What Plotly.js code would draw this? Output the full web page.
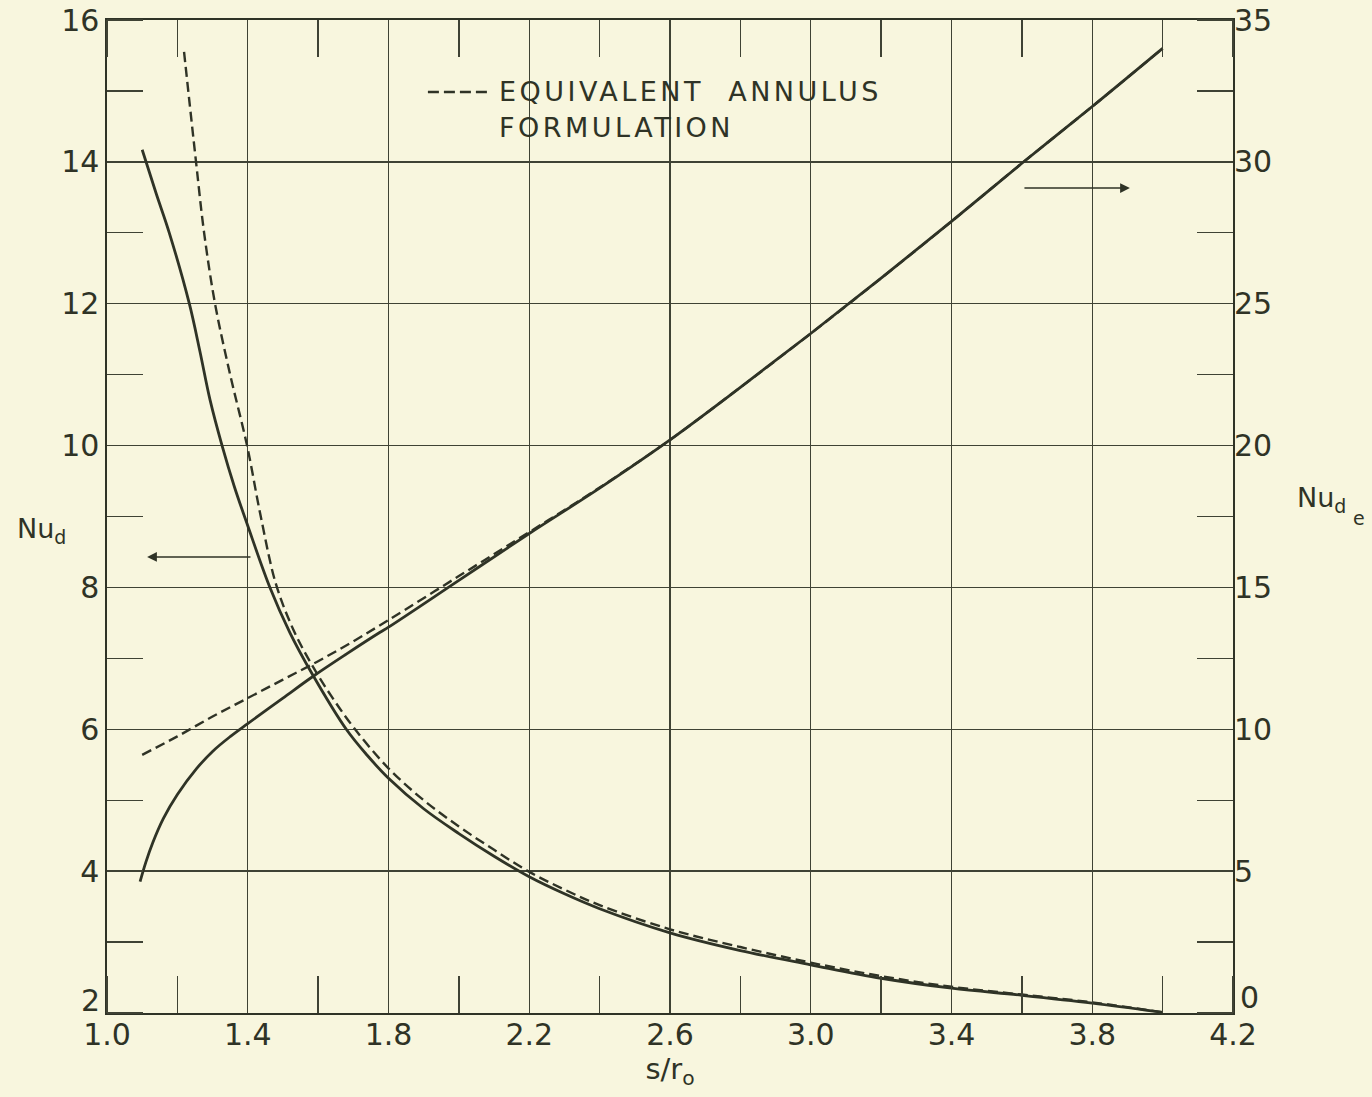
<!DOCTYPE html>
<html>
<head>
<meta charset="utf-8">
<script src="https://cdn.plot.ly/plotly-3.0.1.min.js"></script>
<style>
  html, body { margin: 0; padding: 0; background: #f8f6de; }
  #chart { width: 1372px; height: 1097px; }
</style>
</head>
<body>
<div id="chart"></div>
<script>
// Nu_d (left axis), tube-bank solution
const xNuD = [1.100, 1.140, 1.177, 1.234, 1.264, 1.293, 1.327, 1.362, 1.400, 1.463, 1.520, 1.582, 1.680, 1.740, 1.800, 1.900, 2.0, 2.1, 2.2, 2.3, 2.4, 2.6, 2.8, 3.0, 3.2, 3.4, 3.6, 3.8, 4.0];
const nuD  = [14.17, 13.55, 13.0, 12.0, 11.33, 10.64, 10.0, 9.42, 8.87, 8.0, 7.36, 6.79, 6.0, 5.63, 5.31, 4.88, 4.53, 4.21, 3.92, 3.68, 3.47, 3.13, 2.88, 2.68, 2.49, 2.35, 2.25, 2.14, 2.01];

// Nu_d (left axis), equivalent annulus formulation
const xNuDA = [1.219, 1.253, 1.276, 1.307, 1.350, 1.398, 1.437, 1.480, 1.530, 1.582, 1.640, 1.705, 1.80, 1.90, 2.0, 2.1, 2.2, 2.3, 2.4, 2.6, 2.8, 3.0, 3.2, 3.4, 3.6, 3.8, 4.0];
const nuDA  = [15.55, 14.0, 13.0, 12.0, 11.0, 10.0, 9.0, 8.05, 7.40, 6.91, 6.45, 6.0, 5.45, 5.0, 4.63, 4.30, 3.99, 3.74, 3.52, 3.18, 2.93, 2.71, 2.52, 2.37, 2.26, 2.15, 2.01];

// Nu_de (right axis), tube-bank solution
const xNuDe = [1.094, 1.11, 1.13, 1.16, 1.20, 1.255, 1.30, 1.35, 1.40, 1.50, 1.586, 1.68, 1.776, 1.80, 2.0, 2.2, 2.4, 2.6, 2.8, 3.0, 3.2, 3.4, 3.6, 3.8, 4.0];
const nuDe  = [4.63, 5.3, 6.0, 6.85, 7.7, 8.62, 9.22, 9.74, 10.2, 11.1, 11.87, 12.65, 13.42, 13.6, 15.25, 16.9, 18.5, 20.2, 22.05, 23.95, 25.9, 27.9, 29.95, 31.95, 34.0];

// Nu_de (right axis), equivalent annulus formulation
const xNuDeA = [1.10, 1.2, 1.3, 1.4, 1.5, 1.6, 1.7, 1.8, 2.0, 2.2, 2.4, 2.6, 2.8, 3.0, 3.2, 3.4, 3.6, 3.8, 4.0];
const nuDeA  = [9.1, 9.75, 10.45, 11.1, 11.75, 12.4, 13.1, 13.85, 15.4, 16.95, 18.52, 20.2, 22.05, 23.95, 25.9, 27.9, 29.95, 31.95, 34.0];

const xTickVals = [1.0, 1.4, 1.8, 2.2, 2.6, 3.0, 3.4, 3.8, 4.2];
const yLeftTicks = [4, 6, 8, 10, 12, 14, 16];
const yRightTicks = [5, 10, 15, 20, 25, 30, 35];
const yLeftBottomLabel = '2';
const yRightBottomLabel = '0';

const LINE = '#2f3326';
const GRID = '#3f4234';
const BG = '#f8f6de';
const FONT = 'DejaVu Sans';
const TICKSIZE = 30;

const traces = [
  { x: xNuD, y: nuD, yaxis: 'y', mode: 'lines', line: { color: LINE, width: 2.8, shape: 'spline', smoothing: 1 }, name: 'Nu_d' },
  { x: xNuDA, y: nuDA, yaxis: 'y', mode: 'lines', line: { color: LINE, width: 2.4, dash: '10px,5px', shape: 'spline', smoothing: 1 }, name: 'Nu_d annulus' },
  { x: xNuDe, y: nuDe, yaxis: 'y2', mode: 'lines', line: { color: LINE, width: 2.8, shape: 'spline', smoothing: 1 }, name: 'Nu_de' },
  { x: xNuDeA, y: nuDeA, yaxis: 'y2', mode: 'lines', line: { color: LINE, width: 2.4, dash: '10px,5px', shape: 'spline', smoothing: 1 }, name: 'Nu_de annulus' }
];

const sp = 'letter-spacing:3.5px';

const layout = {
  width: 1372, height: 1097,
  paper_bgcolor: BG, plot_bgcolor: BG,
  margin: { l: 107, r: 139, t: 20, b: 84 },
  showlegend: false,
  font: { family: FONT, color: LINE, size: 28 },
  xaxis: {
    range: [1.0, 4.2], tickmode: 'array', tickvals: xTickVals, ticktext: xTickVals.map(v => v.toFixed(1)),
    showgrid: true, gridcolor: GRID, gridwidth: 1.3, zeroline: false,
    showline: true, linecolor: LINE, linewidth: 1.6, mirror: 'ticks', ticks: '',
    ticklabelstandoff: -6,
    tickfont: { size: TICKSIZE, family: FONT, color: LINE },
    minor: { tick0: 1.0, dtick: 0.2, ticks: 'inside', ticklen: 37, tickwidth: 1.3, tickcolor: GRID, showgrid: false },
    title: { text: 's/r<sub>o</sub>', font: { size: 29, family: FONT, color: LINE }, standoff: 8 }
  },
  yaxis: {
    range: [2, 16], tickmode: 'array', tickvals: yLeftTicks,
    showgrid: true, gridcolor: GRID, gridwidth: 1.3, zeroline: false,
    showline: true, linecolor: LINE, linewidth: 1.6, mirror: 'ticks', ticks: '',
    tickfont: { size: TICKSIZE, family: FONT, color: LINE },
    minor: { tick0: 1, dtick: 1, ticks: 'inside', ticklen: 36, tickwidth: 1.3, tickcolor: GRID, showgrid: false }
  },
  yaxis2: {
    range: [0, 35], tickmode: 'array', tickvals: yRightTicks, overlaying: 'y', side: 'right',
    showgrid: false, zeroline: false, showline: false, ticks: '',
    tickfont: { size: TICKSIZE, family: FONT, color: LINE }
  },
  annotations: [
    { text: '<span style="' + sp + '">EQUIVALENT  ANNULUS</span>', xref: 'x', yref: 'y', x: 2.108, y: 14.985, xanchor: 'left', yanchor: 'middle', showarrow: false, font: { size: 27, family: FONT, color: LINE } },
    { text: '<span style="' + sp + '">FORMULATION</span>', xref: 'x', yref: 'y', x: 2.108, y: 14.49, xanchor: 'left', yanchor: 'middle', showarrow: false, font: { size: 27, family: FONT, color: LINE } },
    { text: 'Nu<sub>d</sub>', xref: 'paper', yref: 'y', x: -0.0817, y: 8.80, xanchor: 'left', yanchor: 'middle', showarrow: false, font: { size: 27, family: FONT, color: LINE } },
    { text: 'Nu<sub>d</sub>', xref: 'paper', yref: 'y', x: 1.055, y: 9.24, xanchor: 'left', yanchor: 'middle', showarrow: false, font: { size: 27, family: FONT, color: LINE } },
    { text: 'e', xref: 'paper', yref: 'y', x: 1.1115, y: 8.98, xanchor: 'center', yanchor: 'middle', showarrow: false, font: { size: 19, family: FONT, color: LINE } },
    { text: yLeftBottomLabel, xref: 'paper', yref: 'y', x: -0.0045, y: 2.17, xanchor: 'right', yanchor: 'middle', showarrow: false, font: { size: TICKSIZE, family: FONT, color: LINE } },
    { text: yRightBottomLabel, xref: 'paper', yref: 'y2', x: 1.0045, y: 0.53, xanchor: 'left', yanchor: 'middle', showarrow: false, font: { size: TICKSIZE, family: FONT, color: LINE } },
    { text: '', xref: 'x', yref: 'y', x: 1.114, y: 8.43, axref: 'x', ayref: 'y', ax: 1.412, ay: 8.43, showarrow: true, arrowhead: 2, arrowsize: 1.3, arrowwidth: 1.5, arrowcolor: LINE },
    { text: '', xref: 'x', yref: 'y', x: 3.907, y: 13.63, axref: 'x', ayref: 'y', ax: 3.603, ay: 13.63, showarrow: true, arrowhead: 2, arrowsize: 1.3, arrowwidth: 1.5, arrowcolor: LINE }
  ],
  shapes: [
    { type: 'line', xref: 'x', yref: 'y', x0: 1.912, x1: 2.080, y0: 14.985, y1: 14.985, line: { color: LINE, width: 2.4, dash: '11px,5px' } }
  ]
};

Plotly.newPlot('chart', traces, layout, { staticPlot: true, displayModeBar: false });
</script>
</body>
</html>
